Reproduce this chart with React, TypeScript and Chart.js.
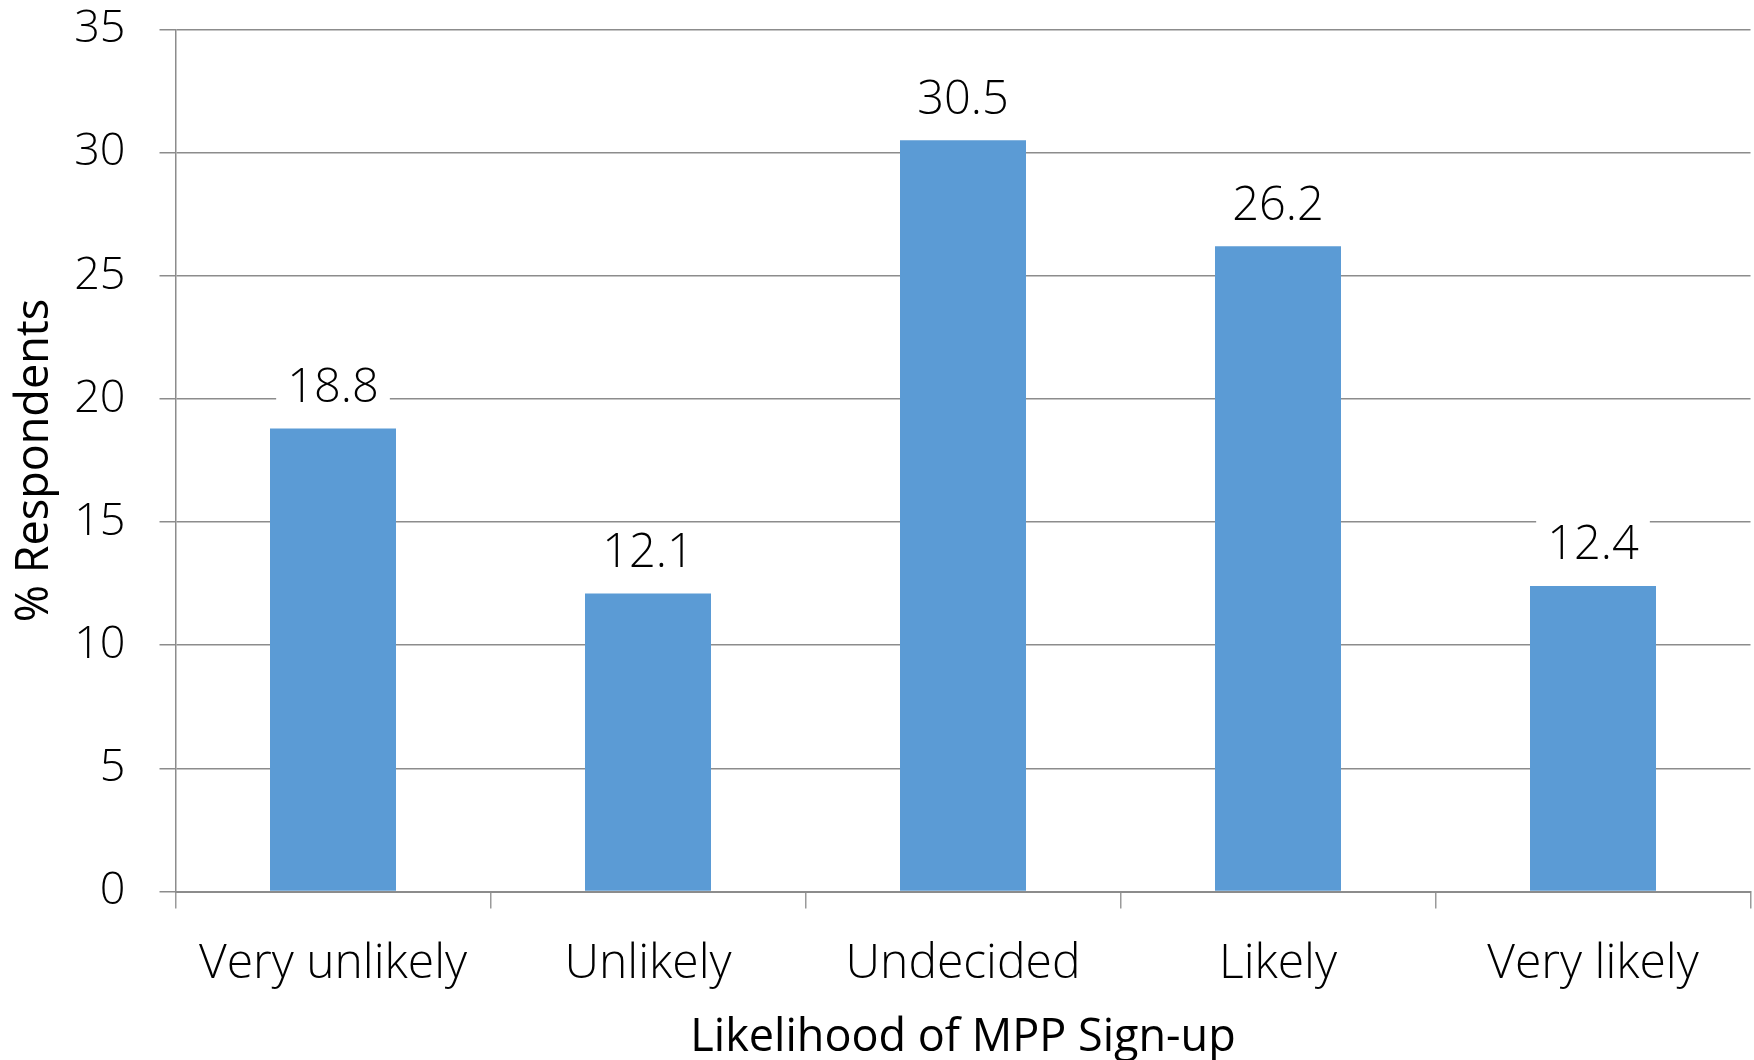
import React, { useEffect, useRef } from "react";
import { Chart, registerables } from "chart.js";

Chart.register(...registerables);

const categories = ["Very unlikely", "Unlikely", "Undecided", "Likely", "Very likely"];
const values = [18.8, 12.1, 30.5, 26.2, 12.4];
const yTicks = [0, 5, 10, 15, 20, 25, 30, 35];
const xTitle = "Likelihood of MPP Sign-up";
const yTitle = "% Respondents";

const FONT = "'Open Sans', 'DejaVu Sans', sans-serif";

const labelPlugin = {
  id: "barLabels",
  afterDatasetsDraw(chart: any) {
    const ctx = chart.ctx;
    const meta = chart.getDatasetMeta(0);
    ctx.save();
    ctx.font = `300 47px ${FONT}`;
    ctx.textAlign = "center";
    ctx.textBaseline = "middle";
    meta.data.forEach((bar: any, i: number) => {
      const txt = values[i].toFixed(1);
      const w = ctx.measureText(txt).width;
      const cy = bar.y - 40;
      ctx.fillStyle = "#ffffff";
      ctx.fillRect(bar.x - w / 2 - 11, cy - 26, w + 22, 52);
      ctx.fillStyle = "#000000";
      ctx.fillText(txt, bar.x, cy);
    });
    ctx.restore();
  },
};

export default function App() {
  const ref = useRef<HTMLCanvasElement>(null);
  useEffect(() => {
    document.body.style.margin = "0";
    const chart = new Chart(ref.current!, {
      type: "bar",
      data: {
        labels: categories,
        datasets: [
          {
            data: values,
            backgroundColor: "#5B9BD5",
            borderWidth: 0,
            barPercentage: 0.4,
            categoryPercentage: 1,
          },
        ],
      },
      options: {
        animation: false,
        responsive: false,
        maintainAspectRatio: false,
        layout: { padding: { top: 29.5, right: 3.5, left: 0, bottom: 0 } },
        plugins: { legend: { display: false }, tooltip: { enabled: false } },
        scales: {
          x: {
            grid: {
              offset: true,
              drawOnChartArea: false,
              drawTicks: true,
              tickLength: 17,
              color: "#9a9a9a",
              lineWidth: 1.5,
            },
            border: { color: "#8c8c8c", width: 2 },
            ticks: {
              color: "#000",
              padding: 27,
              font: { family: FONT, size: 48, weight: "300" as any },
            },
            title: {
              display: true,
              text: xTitle,
              color: "#000",
              padding: { top: 0, bottom: -5 },
              font: { family: FONT, size: 45, weight: "normal" as any },
            },
            afterFit(scale: any) {
              scale.height = 168.5;
              scale.paddingLeft = 0;
              scale.paddingRight = 0;
            },
          },
          y: {
            min: 0,
            max: 35,
            afterBuildTicks(scale: any) {
              scale.ticks = yTicks.map((v) => ({ value: v }));
            },
            grid: {
              color: "#8c8c8c",
              lineWidth: 1.5,
              drawTicks: true,
              tickLength: 16,
            },
            border: { color: "#8c8c8c", width: 1.5 },
            ticks: {
              color: "#000",
              padding: 34,
              font: { family: FONT, size: 45, weight: "300" as any },
            },
            title: {
              display: true,
              text: yTitle,
              color: "#000",
              padding: { top: 8, bottom: 0 },
              font: { family: FONT, size: 45, weight: "normal" as any },
            },
            afterFit(scale: any) {
              scale.width = 175.5;
              scale.paddingTop = 0;
              scale.paddingBottom = 0;
            },
          },
        },
      },
      plugins: [labelPlugin],
    });
    return () => chart.destroy();
  }, []);
  return <canvas ref={ref} width={1754} height={1060} style={{ display: "block" }} />;
}
